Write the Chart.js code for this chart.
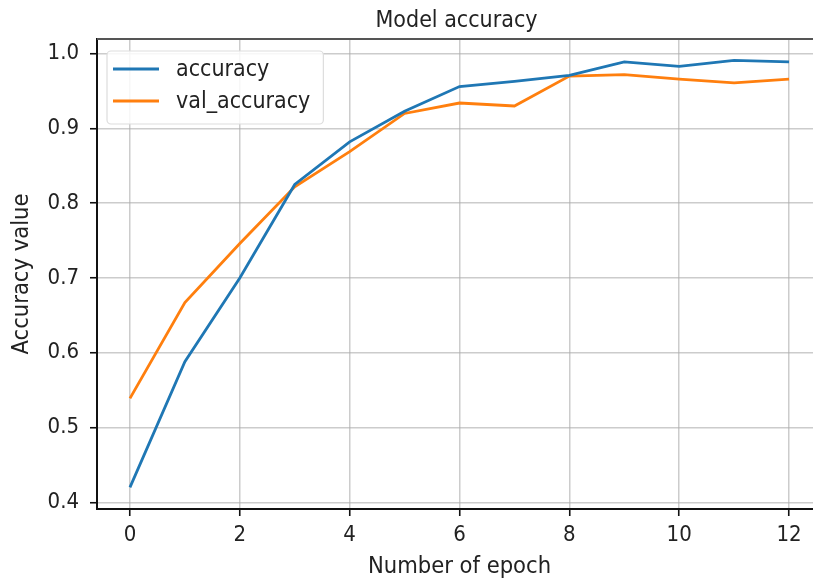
<!DOCTYPE html>
<html>
<head>
<meta charset="utf-8">
<script src="https://cdn.jsdelivr.net/npm/chart.js"></script>
<style>
  html, body { margin: 0; padding: 0; background: #ffffff; overflow: hidden; }
  #wrap { width: 813px; height: 584px; overflow: hidden; }
  canvas { display: block; }
</style>
</head>
<body>
<div id="wrap"><canvas id="chart" width="840" height="584"></canvas></div>
<script>
// данные графика
const epochs = [0, 1, 2, 3, 4, 5, 6, 7, 8, 9, 10, 11, 12];
const accuracy = [0.420, 0.588, 0.700, 0.825, 0.882, 0.923, 0.956, 0.963, 0.971, 0.989, 0.983, 0.991, 0.989];
const valAccuracy = [0.539, 0.667, 0.746, 0.822, 0.869, 0.920, 0.934, 0.930, 0.970, 0.972, 0.966, 0.961, 0.966];
const xTicks = [0, 2, 4, 6, 8, 10, 12];
const yTicks = [0.4, 0.5, 0.6, 0.7, 0.8, 0.9, 1.0];
const seriesNames = ['accuracy', 'val_accuracy'];

const FONT = "'DejaVu Sans Condensed', 'DejaVu Sans', sans-serif";
const TEXT = '#222222';

// заголовок, верхняя рамка и легенда внутри области графика
const decorPlugin = {
    id: 'decor',
    afterDraw(chart) {
        const { ctx, chartArea } = chart;
        ctx.save();

        // верхняя рамка
        ctx.strokeStyle = '#555555';
        ctx.lineWidth = 2;
        ctx.beginPath();
        ctx.moveTo(chartArea.left, chartArea.top);
        ctx.lineTo(chartArea.right, chartArea.top);
        ctx.stroke();

        // заголовок
        ctx.fillStyle = TEXT;
        ctx.font = '23px ' + FONT;
        ctx.textAlign = 'center';
        ctx.textBaseline = 'middle';
        ctx.fillText('Model accuracy', (chartArea.left + chartArea.right) / 2 - 3, 21);

        // легенда
        ctx.font = '23px ' + FONT;
        const bx = chartArea.left + 10;
        const by = chartArea.top + 12;
        const sets = chart.data.datasets;
        let maxW = 0;
        sets.forEach(ds => { maxW = Math.max(maxW, ctx.measureText(ds.label).width); });
        const bw = 69 + maxW + 13;
        const bh = 73;
        ctx.beginPath();
        ctx.roundRect(bx, by, bw, bh, 4);
        ctx.fillStyle = 'rgba(255,255,255,0.85)';
        ctx.fill();
        ctx.strokeStyle = '#dddddd';
        ctx.lineWidth = 1.2;
        ctx.stroke();

        ctx.textAlign = 'left';
        sets.forEach((ds, i) => {
            const ly = by + 18 + i * 32;
            ctx.strokeStyle = ds.borderColor;
            ctx.lineWidth = 2.8;
            ctx.beginPath();
            ctx.moveTo(bx + 6, ly);
            ctx.lineTo(bx + 52, ly);
            ctx.stroke();
            ctx.fillStyle = TEXT;
            ctx.fillText(ds.label, bx + 69, ly + 1);
        });
        ctx.restore();
    }
};

const ctx = document.getElementById('chart').getContext('2d');

new Chart(ctx, {
    type: 'line',
    data: {
        datasets: [{
            label: seriesNames[0],
            data: epochs.map((e, i) => ({ x: e, y: accuracy[i] })),
            borderColor: '#1f77b4',
            borderWidth: 2.8,
            pointRadius: 0,
            tension: 0,
            fill: false
        }, {
            label: seriesNames[1],
            data: epochs.map((e, i) => ({ x: e, y: valAccuracy[i] })),
            borderColor: '#ff7f0e',
            borderWidth: 2.8,
            pointRadius: 0,
            tension: 0,
            fill: false
        }]
    },
    options: {
        responsive: false,
        animation: false,
        devicePixelRatio: 1,
        layout: {
            padding: { top: 39, right: 18, bottom: 0, left: 0 }
        },
        plugins: {
            legend: { display: false },
            title: { display: false },
            tooltip: { enabled: false }
        },
        scales: {
            x: {
                type: 'linear',
                min: -0.6,
                max: 12.6,
                afterBuildTicks: scale => { scale.ticks = xTicks.map(v => ({ value: v })); },
                afterFit: scale => { scale.height = 75; },
                ticks: {
                    color: TEXT,
                    font: { family: FONT, size: 22 },
                    padding: 6,
                    maxRotation: 0,
                    callback: v => String(v)
                },
                grid: {
                    color: 'rgba(170,170,170,0.6)',
                    lineWidth: 1.5,
                    drawTicks: true,
                    tickLength: 7,
                    tickColor: '#111111',
                    tickWidth: 1.6
                },
                border: { display: true, color: '#111111', width: 2 },
                title: {
                    display: true,
                    text: 'Number of epoch',
                    color: TEXT,
                    font: { family: FONT, size: 23.5 },
                    padding: { top: 0, bottom: 3 }
                }
            },
            y: {
                type: 'linear',
                min: 0.391,
                max: 1.0196,
                afterBuildTicks: scale => { scale.ticks = yTicks.map(v => ({ value: v })); },
                afterFit: scale => { scale.width = 97; },
                ticks: {
                    color: TEXT,
                    font: { family: FONT, size: 22 },
                    padding: 11,
                    callback: v => Number(v).toFixed(1)
                },
                grid: {
                    color: 'rgba(170,170,170,0.6)',
                    lineWidth: 1.5,
                    drawTicks: true,
                    tickLength: 7,
                    tickColor: '#111111',
                    tickWidth: 1.6
                },
                border: { display: true, color: '#111111', width: 2 },
                title: {
                    display: true,
                    text: 'Accuracy value',
                    color: TEXT,
                    font: { family: FONT, size: 23.5 },
                    padding: { top: 8, bottom: 0 }
                }
            }
        }
    },
    plugins: [decorPlugin]
});
</script>
</body>
</html>
